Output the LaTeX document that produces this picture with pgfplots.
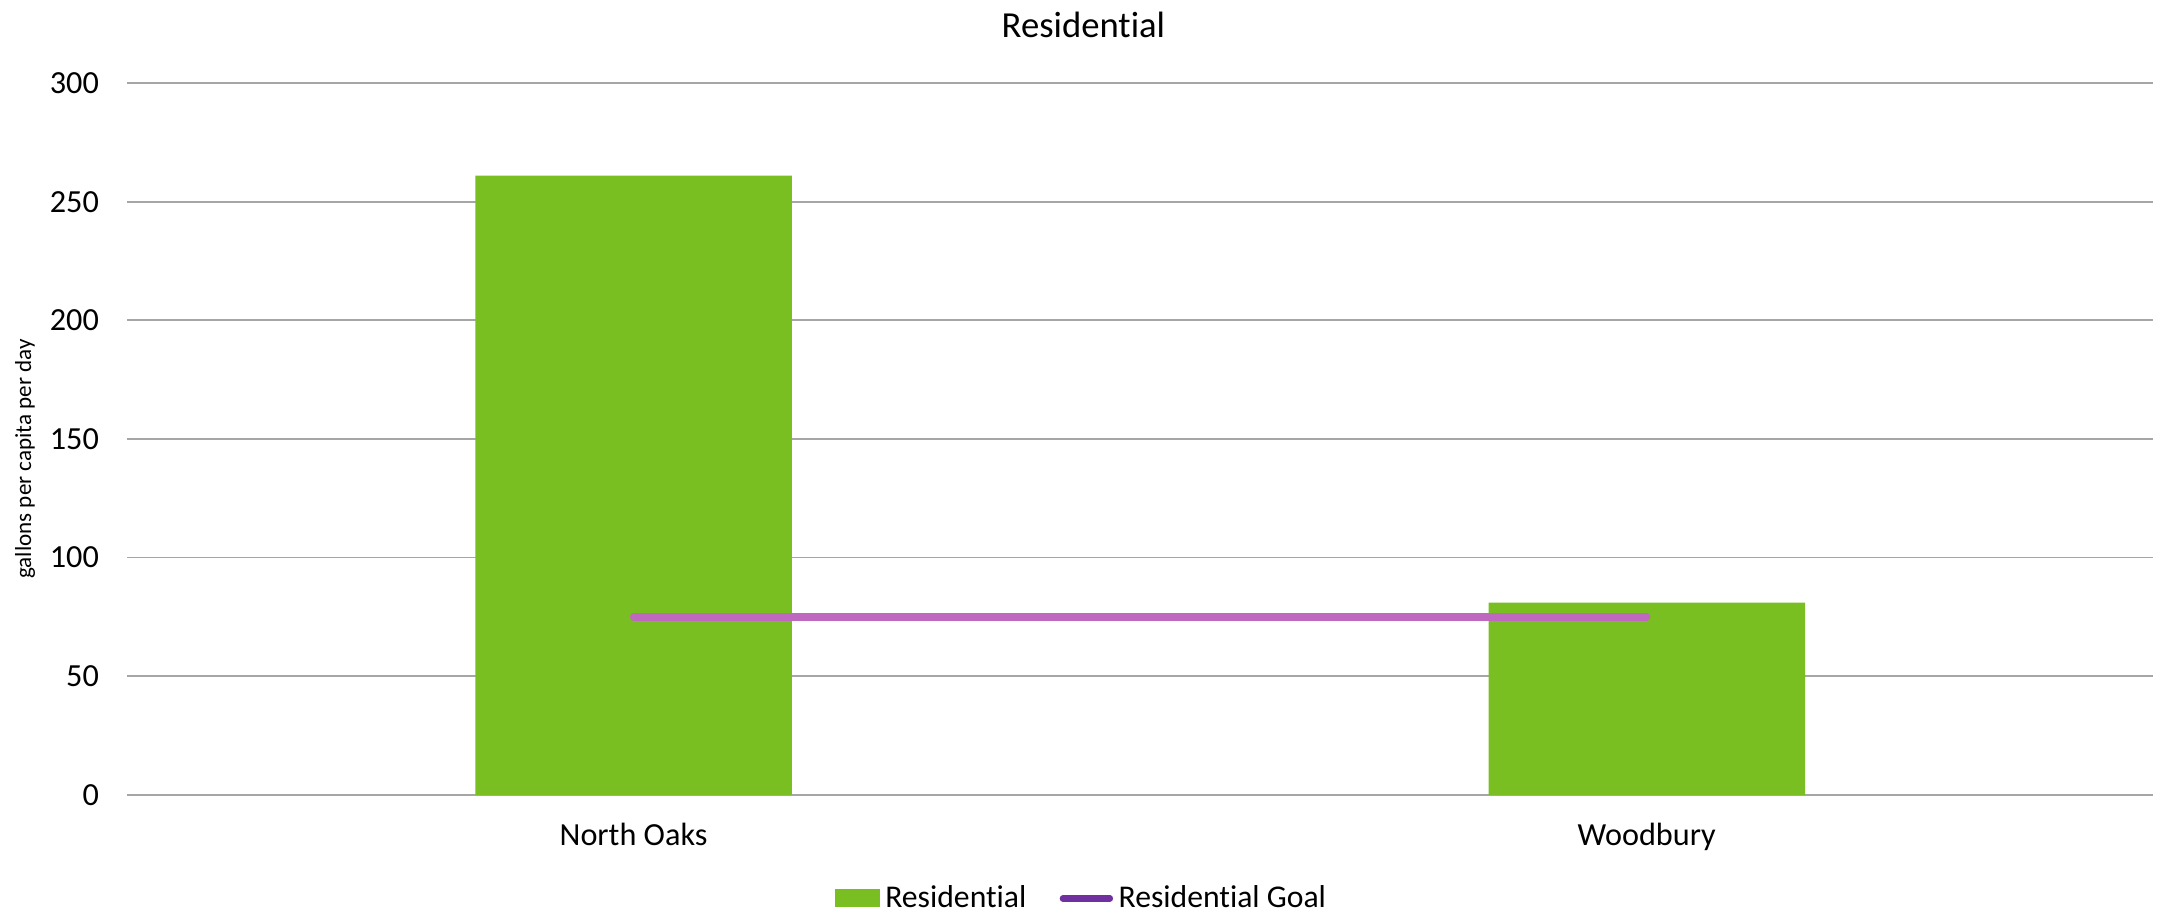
\documentclass[border=0pt]{standalone}
\usepackage{fontspec}
\setmainfont{Carlito}[Ligatures={NoCommon}]
\usepackage{pgfplots}
\pgfplotsset{compat=1.18}
\definecolor{barGreen}{HTML}{7ABF21}
\definecolor{goalLine}{HTML}{BF68BF}
\definecolor{goalLegend}{HTML}{7030A0}
\definecolor{gridGray}{HTML}{A6A6A6}
\begin{document}
\begin{tikzpicture}
\useasboundingbox (-45.7pt,-43.2pt) rectangle ++(780pt,329.3pt);
\begin{axis}[
  name=main,
  at={(0,0)}, anchor=south west,
  scale only axis,
  width=729.4pt, height=256.2pt,
  xmin=-0.5, xmax=1.5,
  ymin=0, ymax=300,
  ytick={0,50,...,300},
  xtick={0,1},
  xticklabels={North Oaks, Woodbury},
  /pgf/number format/assume math mode=true,
  tick label style={font=\fontsize{11.6}{13}\selectfont, text=black},
  y tick label style={anchor=east, inner sep=0pt, xshift=-9.9pt},
  x tick label style={anchor=north, inner sep=0pt, yshift=-10pt},
  major tick length=0pt,
  axis y line*=left,
  axis x line*=bottom,
  y axis line style={draw=none},
  x axis line style={draw=gridGray, line width=0.6pt},
  ymajorgrids,
  grid style={draw=gridGray, line width=0.6pt},
  every axis y label/.style={at={(axis description cs:0,0.5)}, xshift=-36.7pt, yshift=-7.2pt, rotate=90, anchor=center, font=\fontsize{8.3}{10}\selectfont},
  ylabel={gallons per capita per day},
  title={Residential},
  every axis title/.style={at={(axis description cs:0.472,1)}, yshift=20.8pt, anchor=center, inner sep=0pt, font=\fontsize{13.2}{15}\selectfont},
  legend style={at={(axis description cs:0.472,-0.1456)}, anchor=center, draw=none, legend columns=2, font=\fontsize{11.4}{13}\selectfont, /tikz/every even column/.append style={column sep=10pt}, inner sep=0pt},
]
\addplot[ybar, bar width=113.9pt, fill=barGreen, draw=none,
  legend image code/.code={\fill[barGreen] (0pt,-3.2pt) rectangle (16pt,3.3pt);}]
  coordinates {(0,261) (1,81)};
\addlegendentry{Residential}
\addplot[goalLine, line width=2.6pt, line cap=round, mark=none,
  legend image code/.code={\draw[goalLegend, line width=2.2pt, line cap=round] (0pt,0pt) -- (17pt,0pt);}]
  coordinates {(0,75) (1,75)};
\addlegendentry{Residential Goal}
\end{axis}
\end{tikzpicture}
\end{document}
